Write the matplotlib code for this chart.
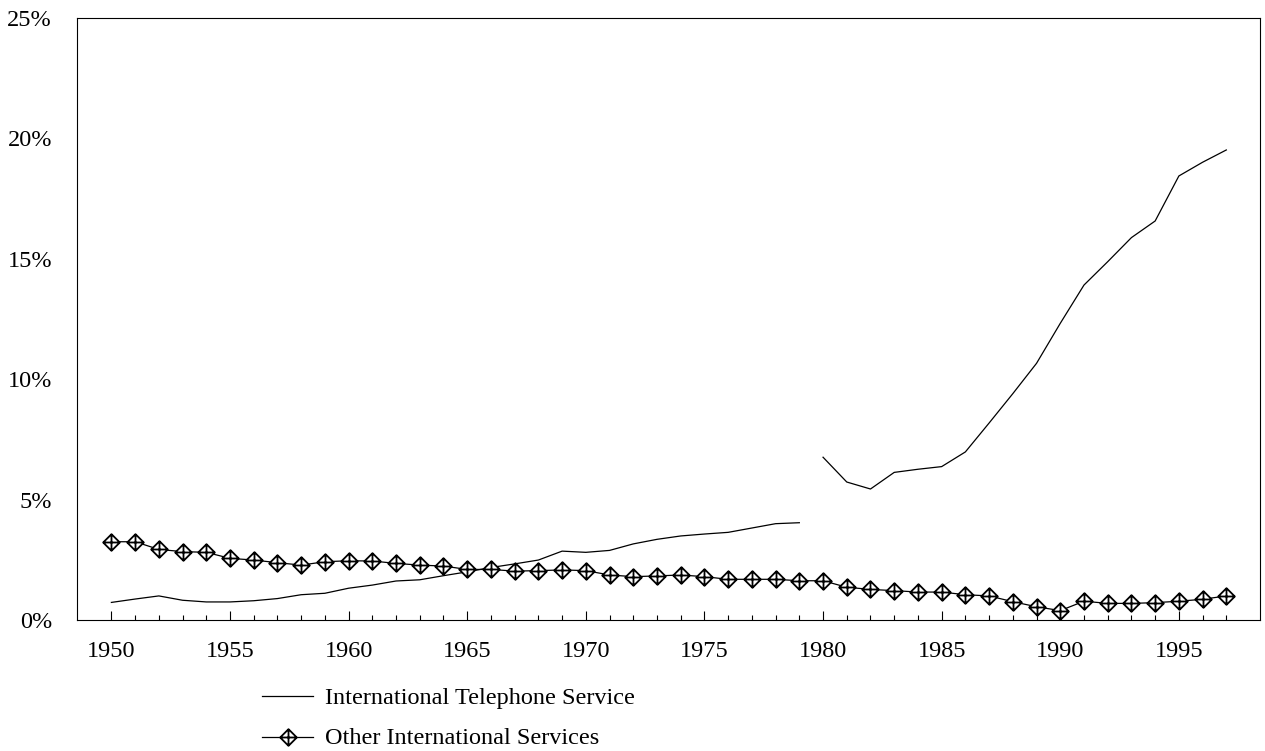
import numpy as np
import matplotlib
matplotlib.use("Agg")
from matplotlib import pyplot as plt
from matplotlib.path import Path
from matplotlib.ticker import FixedLocator, FuncFormatter

plt.rcParams['font.family'] = ['Liberation Serif', 'DejaVu Serif']

# years for each series
years = list(range(1950, 1998))

# telephone share: series breaks between 1979 and 1980
tel_early = [0.73, 0.87, 1.00, 0.82, 0.75, 0.75, 0.80, 0.89, 1.05, 1.11,
             1.32, 1.45, 1.62, 1.67, 1.84, 2.00, 2.18, 2.33, 2.49, 2.86,
             2.81, 2.89, 3.16, 3.35, 3.49, 3.57, 3.64, 3.82, 4.00, 4.04]
tel_late = [6.76, 5.73, 5.44, 6.13, 6.26, 6.37, 6.98, 8.18, 9.40, 10.66,
            12.32, 13.91, 14.88, 15.88, 16.57, 18.44, 19.01, 19.52]

other = [3.25, 3.25, 2.93, 2.84, 2.81, 2.56, 2.49, 2.38, 2.28, 2.42,
         2.46, 2.45, 2.35, 2.28, 2.24, 2.10, 2.10, 2.03, 2.05, 2.08,
         2.05, 1.87, 1.80, 1.83, 1.87, 1.80, 1.69, 1.69, 1.69, 1.63,
         1.63, 1.36, 1.27, 1.22, 1.16, 1.16, 1.05, 1.00, 0.76, 0.55,
         0.39, 0.78, 0.69, 0.69, 0.72, 0.78, 0.86, 1.00]

labels = ["International Telephone Service", "Other International Services"]

# diamond with a cross inside
verts = [(0, 1), (1, 0), (0, -1), (-1, 0), (0, 1),
         (0, 1), (0, -1), (-1, 0), (1, 0)]
codes = [Path.MOVETO, Path.LINETO, Path.LINETO, Path.LINETO, Path.CLOSEPOLY,
         Path.MOVETO, Path.LINETO, Path.MOVETO, Path.LINETO]
diamond_cross = Path(verts, codes)

fig = plt.figure(figsize=(12.65, 7.51), dpi=100)
ax = fig.add_axes([77 / 1265, 1 - 620 / 751, (1260 - 77) / 1265, (620 - 18) / 751])

n_early = len(tel_early)
ax.plot(years[:n_early], tel_early, color='black', lw=0.9, label=labels[0])
ax.plot(years[n_early:], tel_late, color='black', lw=0.9)
ax.plot(years, other, color='black', lw=0.9, marker=diamond_cross, ms=12,
        mfc='white', mec='black', mew=1.3, label=labels[1])

ax.set_xlim(1948.55, 1998.42)
ax.set_ylim(0, 25)

ax.xaxis.set_major_locator(FixedLocator(list(range(1950, 1996, 5))))
ax.xaxis.set_minor_locator(FixedLocator(years))
ax.tick_params(axis='x', which='major', direction='in', length=6.5, width=0.8,
               pad=15, labelsize=17.5)
ax.tick_params(axis='x', which='minor', direction='in', length=3.6, width=0.8)
ax.yaxis.set_major_locator(FixedLocator([0, 5, 10, 15, 20, 25]))
ax.yaxis.set_major_formatter(FuncFormatter(lambda v, p: f"{v:.0f}%"))
ax.tick_params(axis='y', length=0, pad=18, labelsize=17.5)

for s in ax.spines.values():
    s.set_linewidth(0.8)

fig.legend(loc='upper left', bbox_to_anchor=(262 / 1265, 1 - 688 / 751),
           frameon=False, fontsize=17.5, borderpad=0, borderaxespad=0,
           handlelength=2.1, handletextpad=0.5, handleheight=0.45,
           labelspacing=0.8, numpoints=1)

fig.savefig("out.png", dpi=100)
